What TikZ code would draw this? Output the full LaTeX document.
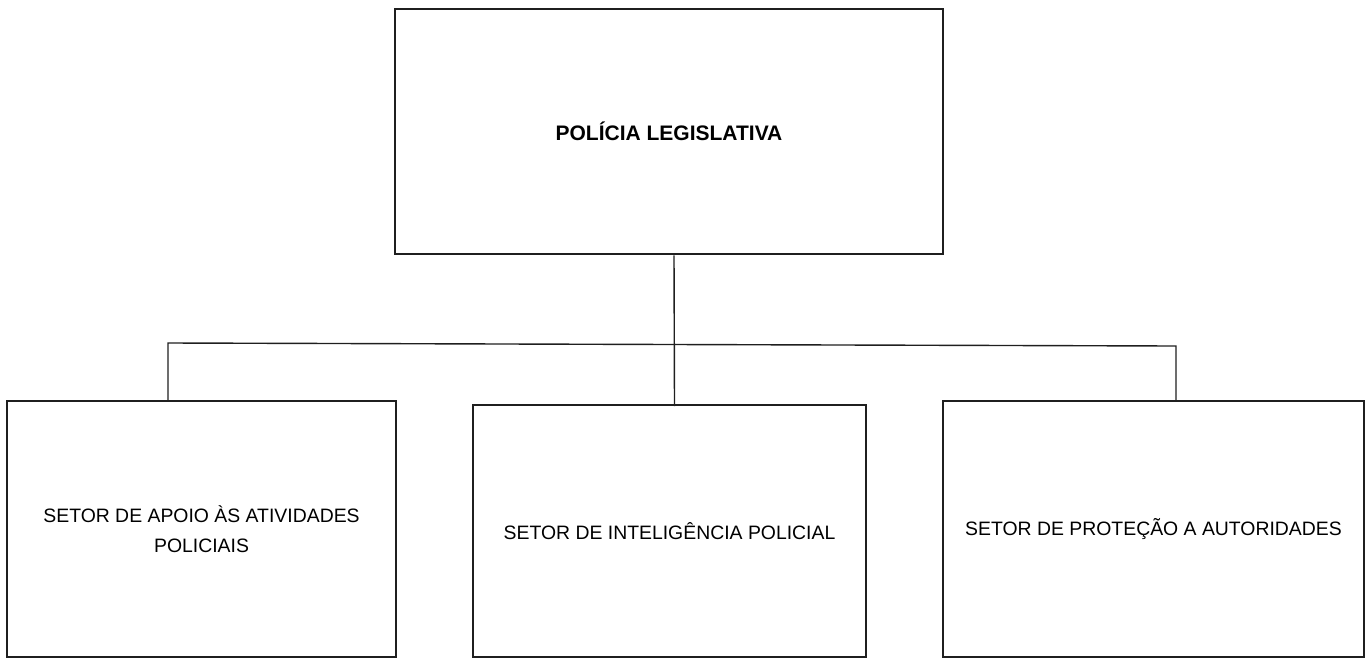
\documentclass[tikz,border=0pt]{standalone}
\usepackage{fontspec}
\setmainfont{Liberation Sans}
\usepackage{tikz}
\colorlet{boxline}{black!88}

\begin{document}
\begin{tikzpicture}[x=0.5pt,y=-0.5pt,
  unit/.style={draw=boxline,line width=1.3pt,inner sep=0pt,align=center,
    font=\fontsize{10.5}{13}\selectfont\bfseries},
  sector/.style={draw=boxline,line width=1pt,inner sep=0pt,align=center,
    minimum height=128pt,font=\fontsize{9.7}{15}\selectfont},
  link/.style={draw=boxline,line width=0.7pt}]
\useasboundingbox (0,0) rectangle (1371,659);
\node[unit,minimum width=274pt,minimum height=122.5pt] (policia) at (669,131.5) {POLÍCIA LEGISLATIVA};
\node[sector,minimum width=194.5pt] (apoio) at (201.5,529) {SETOR DE APOIO ÀS ATIVIDADES\\POLICIAIS};
\node[sector,minimum width=196.5pt,minimum height=126pt] (inteligencia) at (669.5,531) {SETOR DE INTELIGÊNCIA POLICIAL};
\node[sector,minimum width=210.5pt] (protecao) at (1153.5,529) {SETOR DE PROTEÇÃO A AUTORIDADES};
\coordinate (barL) at (168,343);
\coordinate (barR) at (1176,346);
\draw[link] ([xshift=2.5pt]policia.south) -- ([xshift=2.5pt,yshift=-1pt]inteligencia.north);
\draw[link] (barL |- apoio.north) -- (barL) -- (barR) -- (barR |- protecao.north);
\end{tikzpicture}
\end{document}
